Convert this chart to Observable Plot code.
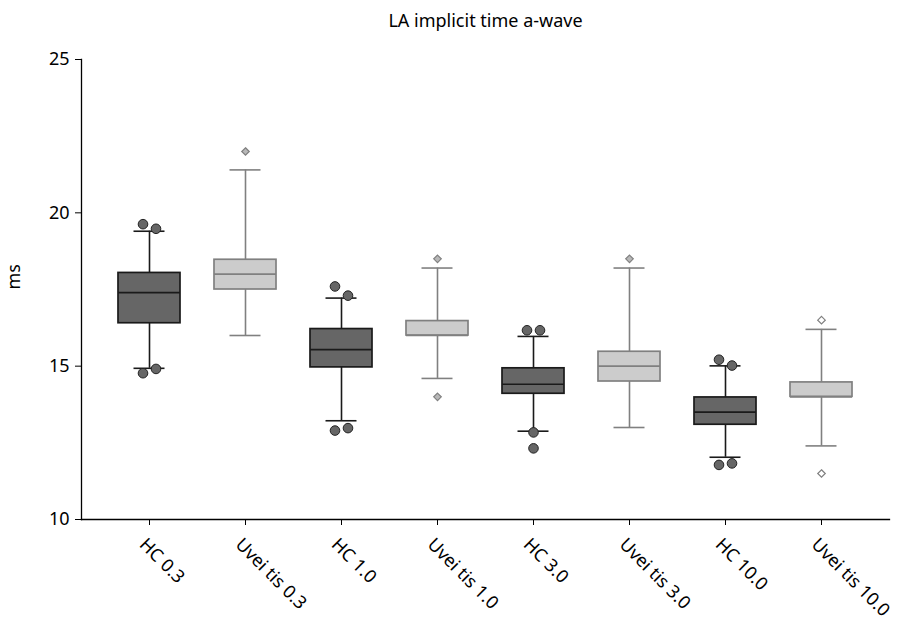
<!DOCTYPE html>
<html>
<head>
<meta charset="utf-8">
<script src="https://cdn.jsdelivr.net/npm/d3@7"></script>
<script src="https://cdn.jsdelivr.net/npm/@observablehq/plot@0.6"></script>
<style>
  html, body { margin: 0; padding: 0; background: #fff; }
  #chart svg { font-family: "Noto Sans", "Open Sans", sans-serif; }
</style>
</head>
<body>
<div id="chart"></div>
<script>
// Groups along the x axis
const groups = ["HC 0.3", "Uvei tis 0.3", "HC 1.0", "Uvei tis 1.0", "HC 3.0", "Uvei tis 3.0", "HC 10.0", "Uvei tis 10.0"];
// Box statistics per group (ms)
const whiskerLow  = [14.93, 16.0, 13.22, 14.6, 12.88, 13.0, 12.03, 12.4];
const q1          = [16.4, 17.5, 14.96, 16.0, 14.1, 14.5, 13.09, 14.0];
const median      = [17.4, 18.0, 15.54, 16.0, 14.41, 15.0, 13.5, 14.0];
const q3          = [18.04, 18.47, 16.21, 16.47, 14.93, 15.47, 13.98, 14.47];
const whiskerHigh = [19.4, 21.4, 17.22, 18.2, 15.97, 18.2, 15.01, 16.2];
// Outlying values per group
const outliers = [
  [19.63, 19.48, 14.77, 14.91],
  [22.0],
  [17.6, 17.3, 12.9, 12.98],
  [18.5, 14.0],
  [16.17, 16.17, 12.84, 12.32],
  [18.5],
  [15.21, 15.02, 11.78, 11.83],
  [16.5, 11.5]
];
const yTicks = [10, 15, 20, 25];

const isHC = g => g.startsWith("HC");

const boxes = groups.map((g, i) => ({
  group: g, hc: isHC(g),
  lo: whiskerLow[i], q1: q1[i], med: median[i], q3: q3[i], hi: whiskerHigh[i]
}));

// Side-by-side placement for outliers that would overlap vertically:
// the more extreme one goes left, its neighbour right, lone points stay centred.
const pts = [];
groups.forEach((g, i) => {
  const vals = outliers[i];
  const above = vals.filter(v => v > median[i]).sort((a, b) => b - a);
  const below = vals.filter(v => v <= median[i]).sort((a, b) => a - b);
  for (const side of [above, below]) {
    side.forEach((v, k) => {
      let pos = 0;
      const prev = side[k - 1], next = side[k + 1];
      if (next !== undefined && Math.abs(next - v) < 0.35 && (prev === undefined || Math.abs(prev - v) >= 0.35)) pos = -1;
      else if (prev !== undefined && Math.abs(prev - v) < 0.35) pos = 1;
      pts.push({group: g, hc: isHC(g), value: v, pos, hollow: g === "Uvei tis 10.0"});
    });
  }
});

const HC_FILL = "#666666", HC_STROKE = "#1a1a1a";
const UV_FILL = "#cccccc", UV_STROKE = "#808080";
const capInset = 15.5;

const chart = Plot.plot({
  width: 902,
  height: 623,
  marginTop: 59,
  marginBottom: 104,
  marginLeft: 81,
  marginRight: 13,
  style: {fontSize: "18px", color: "#000", background: "#fff"},
  x: {type: "band", domain: groups, paddingInner: 0.35, paddingOuter: 0.35, label: null},
  y: {domain: [10, 25], label: null},
  marks: [
    // title and y label
    Plot.text(["LA implicit time a-wave"], {frameAnchor: "top", dy: -45, fontSize: 18, fill: "#000"}),
    Plot.text(["ms"], {frameAnchor: "left", dx: -67, rotate: -90, fontSize: 18, fill: "#000"}),
    // whisker stems
    Plot.ruleX(boxes, {x: "group", y1: "lo", y2: "q1", stroke: d => d.hc ? HC_STROKE : UV_STROKE, strokeWidth: 1.6}),
    Plot.ruleX(boxes, {x: "group", y1: "q3", y2: "hi", stroke: d => d.hc ? HC_STROKE : UV_STROKE, strokeWidth: 1.6}),
    // whisker caps
    Plot.tickY(boxes, {x: "group", y: "lo", stroke: d => d.hc ? HC_STROKE : UV_STROKE, strokeWidth: 1.6, insetLeft: capInset, insetRight: capInset}),
    Plot.tickY(boxes, {x: "group", y: "hi", stroke: d => d.hc ? HC_STROKE : UV_STROKE, strokeWidth: 1.6, insetLeft: capInset, insetRight: capInset}),
    // boxes
    Plot.barY(boxes, {x: "group", y1: "q1", y2: "q3", fill: d => d.hc ? HC_FILL : UV_FILL, stroke: d => d.hc ? HC_STROKE : UV_STROKE, strokeWidth: 1.7}),
    // medians
    Plot.tickY(boxes, {x: "group", y: "med", stroke: d => d.hc ? HC_STROKE : UV_STROKE, strokeWidth: 1.7}),
    // outliers: circles for HC, diamonds for uveitis
    ...[-1, 0, 1].map(p => Plot.dot(pts.filter(d => d.hc && d.pos === p), {
      x: "group", y: "value", dx: p * 6.5, r: 4.8, fill: HC_FILL, stroke: "#222", strokeWidth: 1
    })),
    ...[-1, 0, 1].map(p => Plot.dot(pts.filter(d => !d.hc && d.pos === p), {
      x: "group", y: "value", dx: p * 6.5, r: 3.4, symbol: "diamond2",
      fill: d => d.hollow ? "#ffffff" : "#b8b8b8", stroke: "#808080", strokeWidth: 1.2
    })),
    // axes
    Plot.axisY({ticks: yTicks, tickSize: 6, tickPadding: 6, label: null, fontSize: 18}),
    Plot.axisX({tickSize: 6, text: null, label: null}),
    Plot.axisX({tickSize: 0, tickRotate: 45, tickPadding: 10, dx: -7, dy: 12, label: null, fontSize: 18}),
    Plot.frame({anchor: "left", stroke: "#000", strokeWidth: 1.3}),
    Plot.frame({anchor: "bottom", stroke: "#000", strokeWidth: 1.3})
  ]
});

document.getElementById("chart").append(chart);
</script>
</body>
</html>
